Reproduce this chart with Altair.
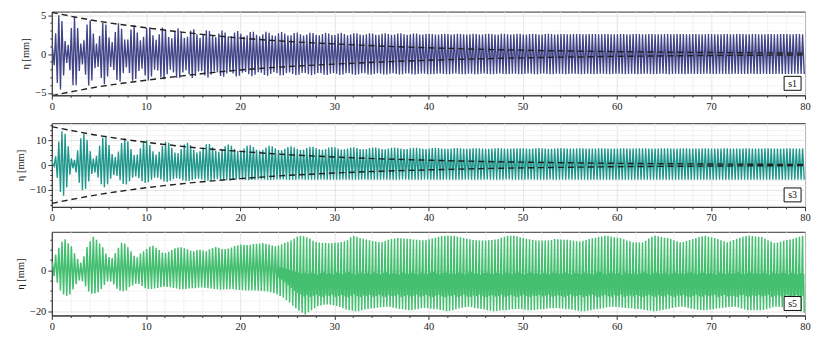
import altair as alt
import pandas as pd

# ---------------- data ----------------
CYCLE_S = 1 / 3           # oscillation period [s]
START = [1.2, 3.0, 2.0]   # value at t = 0 for s1, s3, s5

# s1: crest / trough of each cycle [mm]
S1_HI = [
    0.77, 2.66, 4.99, 4.23, 1.68, 1.19, 3.35, 4.77, 3.35, 1.36,
    1.75, 3.79, 4.34, 2.64, 1.35, 2.33, 3.98, 3.79, 2.13, 1.54,
    2.82, 3.95, 3.25, 1.85, 1.86, 3.16, 3.74, 2.76, 1.76, 2.22,
    3.35, 3.44, 2.40, 1.84, 2.55, 3.40, 3.11, 2.18, 2.01, 2.82,
    3.32, 2.79, 2.07, 2.23, 2.98, 3.17, 2.54, 2.07, 2.45, 3.06,
    2.97, 2.36, 2.16, 2.64, 3.03, 2.77, 2.27, 2.28, 2.77, 2.96,
    2.60, 2.24, 2.42, 2.84, 2.86, 2.47, 2.27, 2.54, 2.85, 2.74,
    2.40, 2.35, 2.65, 2.82, 2.62, 2.36, 2.42, 2.70, 2.77, 2.53,
    2.37, 2.51, 2.73, 2.70, 2.47, 2.40, 2.58, 2.74, 2.64, 2.43,
    2.43, 2.63, 2.72, 2.56, 2.41, 2.49, 2.67, 2.67, 2.51, 2.43,
    2.55, 2.68, 2.63, 2.48, 2.46, 2.59, 2.67, 2.58, 2.46, 2.50,
    2.62, 2.65, 2.54, 2.47, 2.54, 2.63, 2.62, 2.52, 2.49, 2.57,
    2.60, 2.57, 2.51, 2.52, 2.58, 2.60, 2.56, 2.51, 2.53, 2.59, 2.60, 2.54, 2.51, 2.55,
    2.60, 2.58, 2.52, 2.51, 2.57, 2.60, 2.57, 2.51, 2.52, 2.59, 2.60, 2.55, 2.51, 2.54,
    2.60, 2.59, 2.52, 2.51, 2.56, 2.60, 2.58, 2.52, 2.52, 2.58, 2.60, 2.56, 2.51, 2.53,
    2.58, 2.57, 2.54, 2.53, 2.56, 2.58, 2.57, 2.53, 2.53, 2.57, 2.58, 2.56, 2.53, 2.54,
    2.58, 2.58, 2.54, 2.53, 2.55, 2.58, 2.57, 2.54, 2.53, 2.56, 2.58, 2.57, 2.54, 2.53,
    2.57, 2.58, 2.55, 2.53, 2.55, 2.58, 2.58, 2.54, 2.53, 2.56, 2.58, 2.57, 2.54, 2.53,
    2.57, 2.57, 2.55, 2.54, 2.55, 2.57, 2.57, 2.55, 2.54, 2.55, 2.57, 2.57, 2.55, 2.54,
    2.56, 2.57, 2.56, 2.54, 2.55, 2.57, 2.57, 2.55, 2.54, 2.55, 2.57, 2.57, 2.55, 2.54,
    2.56, 2.57, 2.56, 2.54, 2.55, 2.56, 2.57, 2.55,
]
S1_LO = [
    -1.44, -3.71, -4.55, -2.77, -1.16, -2.08, -4.00, -4.00, -2.17, -1.33,
    -2.65, -4.04, -3.41, -1.81, -1.66, -3.08, -3.87, -2.88, -1.67, -2.05,
    -3.34, -3.57, -2.45, -1.71, -2.44, -3.44, -3.22, -2.17, -1.89, -2.75,
    -3.39, -2.88, -2.02, -2.11, -2.95, -3.24, -2.58, -2.01, -2.36, -3.06,
    -3.04, -2.37, -2.08, -2.58, -3.08, -2.83, -2.25, -2.20, -2.74, -3.02,
    -2.65, -2.20, -2.36, -2.83, -2.91, -2.49, -2.23, -2.50, -2.87, -2.78,
    -2.39, -2.29, -2.61, -2.85, -2.65, -2.34, -2.39, -2.70, -2.80, -2.55,
    -2.34, -2.47, -2.74, -2.72, -2.47, -2.36, -2.55, -2.73, -2.65, -2.43,
    -2.42, -2.61, -2.72, -2.58, -2.42, -2.48, -2.66, -2.69, -2.52, -2.42,
    -2.53, -2.68, -2.64, -2.48, -2.45, -2.58, -2.68, -2.59, -2.46, -2.48,
    -2.62, -2.66, -2.55, -2.46, -2.52, -2.64, -2.63, -2.52, -2.47, -2.56,
    -2.64, -2.60, -2.50, -2.50, -2.59, -2.63, -2.57, -2.50, -2.52, -2.60,
    -2.59, -2.60, -2.53, -2.51, -2.55, -2.60, -2.59, -2.53, -2.51, -2.56, -2.60, -2.58, -2.52, -2.52,
    -2.58, -2.60, -2.54, -2.51, -2.55, -2.59, -2.59, -2.53, -2.51, -2.57, -2.60, -2.57, -2.52, -2.53,
    -2.58, -2.60, -2.55, -2.51, -2.54, -2.59, -2.59, -2.54, -2.51, -2.56, -2.60, -2.58, -2.52, -2.52,
    -2.57, -2.58, -2.55, -2.53, -2.54, -2.57, -2.58, -2.55, -2.53, -2.55, -2.58, -2.57, -2.54, -2.53,
    -2.56, -2.58, -2.56, -2.53, -2.54, -2.57, -2.58, -2.55, -2.53, -2.55, -2.58, -2.57, -2.54, -2.53,
    -2.56, -2.58, -2.56, -2.54, -2.54, -2.57, -2.58, -2.55, -2.53, -2.55, -2.57, -2.58, -2.55, -2.53,
    -2.56, -2.57, -2.56, -2.54, -2.54, -2.56, -2.57, -2.56, -2.54, -2.55, -2.56, -2.57, -2.55, -2.54,
    -2.55, -2.57, -2.56, -2.55, -2.54, -2.56, -2.57, -2.56, -2.54, -2.55, -2.56, -2.57, -2.56, -2.54,
    -2.55, -2.57, -2.56, -2.55, -2.54, -2.56, -2.57, -2.56,
]

# s3
S3_HI = [
    0.75, 3.48, 9.49, 13.65, 12.63, 7.53, 2.72, 2.09, 5.90, 10.77,
    12.65, 10.15, 5.51, 2.65, 3.77, 7.74, 11.13, 11.19, 8.03, 4.41,
    3.28, 5.43, 8.91, 10.77, 9.59, 6.47, 4.07, 4.28, 6.80, 9.41,
    9.98, 8.12, 5.50, 4.28, 5.36, 7.74, 9.39, 8.99, 6.98, 5.07,
    4.83, 6.34, 8.27, 9.02, 8.01, 6.18, 5.05, 5.51, 7.08, 8.42,
    8.44, 7.19, 5.76, 5.32, 6.18, 7.55, 8.29, 7.82, 6.58, 5.63,
    5.71, 6.71, 7.75, 7.98, 7.24, 6.20, 5.72, 6.14, 7.09, 7.75,
    7.58, 6.79, 6.04, 5.95, 6.54, 7.30, 7.60, 7.21, 6.48, 6.04,
    6.22, 6.84, 7.37, 7.37, 6.88, 6.32, 6.16, 6.49, 7.02, 7.30,
    7.13, 6.65, 6.28, 6.32, 6.70, 7.10, 7.19, 6.91, 6.50, 6.32,
    6.49, 6.85, 7.10, 7.04, 6.73, 6.44, 6.40, 6.63, 6.93, 7.05,
    6.90, 6.61, 6.43, 6.50, 6.75, 6.95, 6.97, 6.77, 6.55, 6.47,
    6.61, 6.83, 6.95, 6.87, 6.68, 6.53, 6.54, 6.69, 6.85, 6.89, 6.78, 6.61,
    6.58, 6.63, 6.73, 6.81, 6.80, 6.70, 6.60, 6.59, 6.67, 6.77, 6.82, 6.76, 6.66, 6.58, 6.61, 6.71,
    6.80, 6.81, 6.72, 6.62, 6.58, 6.65, 6.76, 6.82, 6.78, 6.68, 6.59, 6.60, 6.69, 6.79, 6.82, 6.74, 6.63,
    6.65, 6.67, 6.71, 6.75, 6.74, 6.70, 6.66, 6.65, 6.69, 6.73, 6.75, 6.73, 6.68, 6.65, 6.66, 6.70,
    6.74, 6.75, 6.71, 6.67, 6.65, 6.68, 6.72, 6.75, 6.73, 6.69, 6.65, 6.66, 6.70, 6.74, 6.75, 6.72, 6.67,
    6.68, 6.69, 6.71, 6.72, 6.72, 6.70, 6.68, 6.68, 6.69, 6.71, 6.72, 6.71, 6.69, 6.68, 6.68, 6.70,
    6.72, 6.72, 6.70, 6.69, 6.68, 6.69, 6.71, 6.72, 6.71, 6.70, 6.68, 6.68, 6.70, 6.72, 6.72, 6.71, 6.69,
    6.68, 6.69, 6.71, 6.72, 6.72, 6.70, 6.68, 6.68, 6.69,
]
S3_LO = [
    -0.50, -5.17, -10.87, -12.41, -8.99, -3.91, -1.35, -3.05, -7.17, -10.13,
    -9.71, -6.62, -3.59, -3.04, -5.07, -7.80, -8.96, -7.79, -5.48, -3.98,
    -4.39, -6.15, -7.70, -7.82, -6.58, -5.12, -4.60, -5.33, -6.58, -7.29,
    -6.96, -5.95, -5.15, -5.16, -5.87, -6.64, -6.84, -6.38, -5.69, -5.35,
    -5.58, -6.12, -6.53, -6.47, -6.05, -5.63, -5.55, -5.83, -6.20, -6.35,
    -6.20, -5.88, -5.68, -5.73, -5.96, -6.17, -6.19, -6.02, -5.81, -5.75,
    -5.85, -6.02, -6.11, -6.06, -5.93, -5.82, -5.82, -5.91, -6.01, -6.04,
    -5.98, -5.88, -5.84, -5.87, -5.94, -5.99, -5.98, -5.92, -5.87, -5.86,
    -5.90, -5.95, -5.97, -5.94, -5.90, -5.87, -5.88, -5.91, -5.94, -5.94,
    -5.92, -5.89, -5.88, -5.89, -5.92, -5.93, -5.92, -5.90, -5.88,
    -5.88, -5.90, -5.91, -5.92, -5.91, -5.89, -5.88, -5.89, -5.90, -5.92, -5.92, -5.90, -5.88, -5.88, -5.89, -5.91,
    -5.92, -5.91, -5.89, -5.88, -5.88, -5.90, -5.92, -5.92, -5.91, -5.89, -5.88, -5.89, -5.91, -5.92, -5.92, -5.90, -5.88,
    -5.88, -5.90, -5.91, -5.92, -5.91, -5.89, -5.88, -5.89, -5.90, -5.92, -5.92, -5.90, -5.88, -5.88, -5.89, -5.91,
    -5.92, -5.91, -5.89, -5.88, -5.88, -5.90, -5.92, -5.92, -5.91, -5.89, -5.88, -5.89, -5.91, -5.92, -5.92, -5.90, -5.88,
    -5.89, -5.90, -5.90, -5.91, -5.91, -5.90, -5.89, -5.89, -5.90, -5.91, -5.91, -5.90, -5.89, -5.89, -5.89, -5.90,
    -5.91, -5.91, -5.90, -5.89, -5.89, -5.90, -5.91, -5.91, -5.90, -5.90, -5.89, -5.89, -5.90, -5.91, -5.91, -5.90, -5.89,
    -5.89, -5.90, -5.90, -5.91, -5.91, -5.90, -5.89, -5.89, -5.90, -5.91, -5.91, -5.90, -5.89, -5.89, -5.89, -5.90,
    -5.91, -5.91, -5.90, -5.89, -5.89, -5.90, -5.91, -5.91, -5.90, -5.90, -5.89, -5.89, -5.90, -5.91, -5.91, -5.90, -5.89,
    -5.89, -5.90, -5.90, -5.91, -5.91, -5.90, -5.89, -5.89, -5.90,
]

# s5
S5_HI = [
    3.8, 7.8, 11.0, 14.0, 15.2, 13.3, 11.8, 8.4, 5.6, 3.8,
    6.9, 11.4, 14.2, 16.5, 15.0, 13.1, 11.3, 8.2, 6.5, 6.0,
    8.5, 11.0, 13.5, 13.2, 11.3, 9.3, 7.1, 6.4, 8.2, 9.4,
    10.5, 11.5, 12.0, 11.0, 10.0, 8.7, 8.5, 9.1, 10.0, 10.8,
    11.2, 11.3, 10.8, 10.3, 9.6, 9.4, 9.9, 10.1, 9.7, 9.4,
    10.3, 10.9, 11.4, 11.0, 10.4, 10.4, 10.7, 11.2, 11.9, 12.3,
    12.6, 12.5, 12.4, 12.5, 12.9, 13.0, 13.1, 13.4, 13.0, 12.6,
    12.2, 11.8, 12.2, 12.8, 13.5, 14.0, 14.6, 15.5, 16.4, 17.0,
    16.7, 16.2, 15.6, 14.5, 13.9, 13.6, 13.4, 13.5, 13.3, 13.4,
    13.5, 13.6, 13.9, 14.2, 14.7, 16.2, 16.8, 16.4, 15.9, 15.5,
    15.1, 14.7, 14.4, 14.1, 13.9, 13.9, 14.4, 15.0, 15.3, 15.6,
    15.8, 15.7, 15.6, 15.5, 15.3, 15.1, 15.0, 14.8, 14.7, 14.8,
    15.2, 15.6, 16.0, 16.4, 16.8, 17.0, 17.0, 17.0, 17.0, 16.6,
    16.2, 15.8, 15.5, 15.2, 14.9, 14.7, 14.6, 14.6, 14.6, 14.7,
    14.9, 15.1, 15.4, 16.0, 16.5, 17.0, 17.0, 17.0, 16.7, 16.2,
    15.8, 15.5, 15.2, 14.9, 14.6, 14.6, 14.6, 14.6, 14.6, 14.9,
    15.3, 15.2, 15.1, 15.0, 15.0, 14.8, 14.5, 14.3, 14.1, 14.5,
    14.9, 15.3, 15.7, 16.0, 16.3, 16.6, 16.9, 17.0, 16.6, 16.2,
    16.0, 15.8, 15.2, 14.6, 14.2, 13.8, 13.7, 13.7, 13.7, 14.5,
    15.6, 16.5, 17.0, 16.7, 16.3, 16.0, 15.8, 15.3, 14.8, 14.3,
    13.8, 13.9, 14.4, 14.9, 15.4, 15.9, 16.3, 16.7, 17.0, 16.6,
    16.2, 15.8, 15.3, 14.8, 14.3, 13.8, 14.3, 14.9, 15.5, 16.0,
    16.4, 16.8, 17.0, 16.8, 16.6, 16.4, 16.3, 15.6, 14.8, 14.1,
    13.5, 13.6, 14.0, 14.5, 14.9, 15.1, 15.5, 16.0, 16.5, 16.9,
]
S5_LO = [
    -2.9, -6.0, -9.8, -11.8, -12.4, -11.8, -9.4, -6.8, -5.0, -5.3,
    -7.8, -10.3, -11.4, -11.3, -10.7, -9.1, -7.1, -5.4, -5.4, -6.9,
    -9.0, -10.0, -10.2, -9.9, -8.1, -7.4, -6.5, -6.7, -7.7, -8.7,
    -9.1, -9.1, -8.9, -8.6, -8.3, -8.0, -8.1, -8.3, -8.6, -8.9,
    -9.2, -9.3, -9.1, -8.9, -8.8, -8.7, -8.5, -8.4, -8.6, -8.8,
    -8.9, -9.1, -9.3, -9.5, -9.4, -9.3, -9.2, -9.3, -9.5, -9.6,
    -9.7, -9.8, -9.8, -9.9, -9.9, -10.0, -10.1, -10.2, -10.4, -10.7,
    -11.2, -11.8, -12.5, -13.4, -14.6, -15.8, -17.3, -18.6, -19.8, -20.8,
    -21.6, -20.5, -19.5, -18.5, -17.6, -17.2, -16.9, -16.7, -16.8, -17.1,
    -17.5, -17.9, -18.5, -19.2, -19.5, -19.8, -20.0, -20.0, -19.6, -19.2,
    -19.0, -18.7, -18.5, -18.3, -18.1, -17.9, -17.8, -18.0, -18.3, -18.6,
    -18.9, -19.1, -19.3, -19.5, -19.5, -19.2, -18.9, -18.6, -18.4, -18.6,
    -18.8, -19.0, -19.1, -19.4, -19.7, -20.0, -19.9, -19.5, -19.1, -18.7,
    -18.3, -17.9, -17.8, -18.1, -18.4, -18.7, -18.9, -19.2, -19.5, -19.8,
    -20.0, -19.9, -19.7, -19.5, -19.5, -19.3, -19.1, -18.9, -18.9, -19.1,
    -19.3, -19.5, -19.5, -19.4, -19.2, -19.1, -19.0, -18.8, -18.6, -18.5,
    -18.4, -18.6, -18.8, -19.0, -19.1, -19.3, -19.6, -19.8, -20.0, -20.0,
    -19.8, -19.5, -19.2, -19.1, -18.8, -18.5, -18.2, -17.9, -17.8, -17.9,
    -18.1, -18.3, -18.4, -18.6, -18.7, -18.9, -18.9, -19.1, -19.4, -19.6,
    -19.8, -20.0, -19.9, -19.7, -19.4, -19.1, -18.8, -18.4, -18.1, -17.9,
    -17.8, -18.0, -18.4, -18.8, -19.1, -19.3, -19.4, -19.5, -19.5, -19.3,
    -19.0, -18.7, -18.5, -18.4, -18.2, -18.0, -17.9, -17.8, -18.2, -18.7,
    -19.2, -19.5, -19.5, -19.5, -19.5, -19.5, -19.4, -19.0, -18.5, -18.1,
    -17.8, -17.9, -18.1, -18.3, -18.4, -18.6, -18.9, -19.4, -20.1, -20.8,
]
# s5 secondary wiggle inside each cycle (from cycle S5_WIGGLE_FROM on)
S5_WIGGLE_FROM = 72
S5_DIP = [
    -3.5, -4.5, -5.8, -7.2, -8.6, -10.0, -11.2, -12.0,
    -12.8, -12.2, -13.0, -12.4, -11.9, -12.7, -13.1, -12.3, -12.6, -12.0,
    -12.9, -12.5, -12.1, -12.8, -13.2, -12.4, -11.8, -12.6, -13.0, -12.3,
    -12.7, -12.1, -12.9, -12.5, -12.0, -12.8, -13.1, -12.2, -12.6, -12.4,
    -11.9, -13.0, -12.6, -12.2, -12.8, -12.4, -12.0, -12.9, -12.5, -12.1,
    -12.8, -13.2, -12.4, -11.9, -12.7, -13.0, -12.3, -12.5, -12.1, -12.9,
    -12.6, -12.0, -12.8, -13.1, -12.3, -12.5, -11.9, -12.7, -13.0, -12.4,
    -12.2, -12.8, -12.5, -12.0, -12.9, -12.6, -12.1, -12.7, -13.1, -12.4,
    -11.9, -12.6, -13.0, -12.3, -12.5, -12.1, -12.8, -12.4, -12.0, -12.9,
    -12.7, -12.2, -12.5, -13.1, -12.4, -11.9, -12.8, -12.6, -12.1, -13.0,
    -12.5, -12.3, -12.0, -12.8, -13.2, -12.4, -12.1, -12.7, -12.9, -12.2,
    -12.6, -11.9, -13.0, -12.5, -12.3, -12.8, -12.1, -12.6, -13.1, -12.4,
    -12.0, -12.7, -12.9, -12.2, -12.5, -12.8, -11.9, -12.6, -13.0, -12.3,
    -12.4, -12.1, -12.8, -13.1, -12.5, -12.0, -12.7, -12.9, -12.2, -12.6,
    -12.3, -11.9, -13.0, -12.6, -12.1, -12.8, -12.4, -12.5, -13.1, -12.2,
    -12.0, -12.7, -12.9, -12.3, -12.6, -12.1, -12.8, -12.4, -11.9, -13.0,
    -12.5, -12.2, -12.8, -12.6, -12.0, -12.9, -12.4, -12.1, -12.7, -12.5,
]
S5_BUMP = [
    1.5, 1.2, 0.8, 0.3, -0.2, -0.7, -1.1, -1.4,
    -1.2, -1.8, -1.0, -1.6, -2.1, -1.3, -0.9, -1.7, -1.4, -2.0,
    -1.1, -1.5, -1.9, -1.2, -0.8, -1.6, -2.2, -1.4, -1.0, -1.7,
    -1.3, -1.9, -1.1, -1.5, -2.0, -1.2, -0.9, -1.8, -1.4, -1.6,
    -2.1, -1.0, -1.4, -1.8, -1.2, -1.6, -2.0, -1.1, -1.5, -1.9,
    -1.2, -0.8, -1.6, -2.1, -1.3, -1.0, -1.7, -1.5, -1.9, -1.1,
    -1.4, -2.0, -1.2, -0.9, -1.7, -1.5, -2.1, -1.3, -1.0, -1.6,
    -1.8, -1.2, -1.5, -2.0, -1.1, -1.4, -1.9, -1.3, -0.9, -1.6,
    -2.1, -1.4, -1.0, -1.7, -1.5, -1.9, -1.2, -1.6, -2.0, -1.1,
    -1.3, -1.8, -1.5, -0.9, -1.6, -2.1, -1.2, -1.4, -1.9, -1.0,
    -1.5, -1.7, -2.0, -1.2, -0.8, -1.6, -1.9, -1.3, -1.1, -1.8,
    -1.4, -2.1, -1.0, -1.5, -1.7, -1.2, -1.9, -1.4, -0.9, -1.6,
    -2.0, -1.3, -1.1, -1.8, -1.5, -1.2, -2.1, -1.4, -1.0, -1.7,
    -1.6, -1.9, -1.2, -0.9, -1.5, -2.0, -1.3, -1.1, -1.8, -1.4,
    -1.7, -2.1, -1.0, -1.4, -1.9, -1.2, -1.6, -1.5, -0.9, -1.8,
    -2.0, -1.3, -1.1, -1.7, -1.4, -1.9, -1.2, -1.6, -2.1, -1.0,
    -1.5, -1.8, -1.2, -1.4, -2.0, -1.1, -1.6, -1.9, -1.3, -1.5,
]

# dashed decay envelopes (upper branch; lower branch is its mirror)
ENV_T = [0, 5, 10, 15, 20, 25, 30, 35, 40, 45, 50, 55, 60, 65, 70, 75, 80]
S1_ENV = [5.35, 4.20, 3.37, 2.65, 2.05, 1.62, 1.30, 1.02, 0.80, 0.63, 0.49, 0.39, 0.30, 0.24, 0.19, 0.15, 0.11]
S3_ENV = [15.5, 11.9, 9.2, 7.1, 5.5, 4.2, 3.25, 2.5, 1.95, 1.5, 1.15, 0.9, 0.68, 0.53, 0.41, 0.31, 0.24]

TAGS = ["s1", "s3", "s5"]
COLORS = ["#414487", "#1f968b", "#44bf70"]
LINE_W = [1.35, 1.35, 1.5]
Y_DOMAINS = [[-5.3, 5.45], [-16.9, 16.9], [-22.1, 18.9]]
Y_MINOR = [1, 2, 5]
Y_MAJOR = [5, 10, 20]
X_TICKS = list(range(0, 81, 2))

# ---------------- chart ----------------
FONT = "Liberation Serif, DejaVu Serif, serif"
W, H = 756, 84


def wave_frame(hi, lo, start, dip=None, bump=None, wig_from=0):
    t, v = [0.0], [start]
    for k, (h, l) in enumerate(zip(hi, lo)):
        t.append((k + 0.22) * CYCLE_S)
        v.append(h)
        if dip is not None and k >= wig_from:
            t += [(k + 0.40) * CYCLE_S, (k + 0.55) * CYCLE_S]
            v += [dip[k - wig_from], bump[k - wig_from]]
        t.append((k + 0.75) * CYCLE_S)
        v.append(l)
    return pd.DataFrame({"t": t, "eta": v})


def env_frame(env):
    rows = []
    for t, e in zip(ENV_T, env):
        rows.append({"t": t, "eta": e, "branch": "up"})
        rows.append({"t": t, "eta": -e, "branch": "down"})
    return pd.DataFrame(rows)


def panel(i, wave, env):
    lo_d, hi_d = Y_DOMAINS[i]
    step, major = Y_MINOR[i], Y_MAJOR[i]
    first = int(-(-lo_d // step)) * step
    yvals = []
    v = first
    while v <= hi_d:
        yvals.append(v)
        v += step
    xs = alt.Scale(domain=[0, 80], nice=False, zero=False)
    ys = alt.Scale(domain=[lo_d, hi_d], nice=False, zero=False)
    xaxis = alt.Axis(
        values=X_TICKS, title=None,
        labelExpr="datum.value % 10 === 0 ? datum.label : ''",
        labelFlush=False, labelOverlap=False,
        labelFont=FONT, labelFontSize=10.5, labelColor="#222", labelPadding=2,
        tickColor="#333", domainColor="#333",
        tickSize={"condition": {"test": "datum.value % 10 === 0", "value": 4}, "value": 2},
        gridColor={"condition": {"test": "datum.value % 10 === 0", "value": "#dedede"}, "value": "#efefef"},
        gridWidth=0.8,
    )
    yaxis = alt.Axis(
        values=yvals, title="η [mm]",
        labelExpr=f"datum.value % {major} === 0 ? datum.label : ''",
        labelOverlap=False,
        labelFont=FONT, labelFontSize=10.5, labelColor="#222", labelPadding=2,
        titleFont=FONT, titleFontSize=10.5, titleFontWeight="normal", titleColor="#222",
        titlePadding=4,
        tickColor="#333", domainColor="#333",
        tickSize={"condition": {"test": f"datum.value % {major} === 0", "value": 4}, "value": 2},
        gridColor={"condition": {"test": f"datum.value % {major} === 0", "value": "#dedede"}, "value": "#efefef"},
        gridWidth=0.8,
    )
    line = alt.Chart(wave).mark_line(
        color=COLORS[i], strokeWidth=LINE_W[i], clip=True
    ).encode(
        x=alt.X("t:Q", scale=xs, axis=xaxis),
        y=alt.Y("eta:Q", scale=ys, axis=yaxis),
    )
    layers = [line]
    if env is not None:
        dash = alt.Chart(env_frame(env)).mark_line(
            color="#222", strokeWidth=1.4, strokeDash=[6, 4], interpolate="monotone", clip=True
        ).encode(
            x=alt.X("t:Q", scale=xs, axis=xaxis),
            y=alt.Y("eta:Q", scale=ys, axis=yaxis),
            detail="branch:N",
        )
        layers.append(dash)
    tagdf = pd.DataFrame({"tag": [TAGS[i]]})
    box = alt.Chart(tagdf).mark_rect(fill="white", stroke="#111", strokeWidth=1).encode(
        x=alt.value(735), x2=alt.value(752), y=alt.value(65), y2=alt.value(79)
    )
    txt = alt.Chart(tagdf).mark_text(font=FONT, fontSize=10, color="#111").encode(
        x=alt.value(743.5), y=alt.value(72.5), text="tag:N"
    )
    layers += [box, txt]
    return alt.layer(*layers).properties(width=W, height=H)


chart = alt.vconcat(
    panel(0, wave_frame(S1_HI, S1_LO, START[0]), S1_ENV),
    panel(1, wave_frame(S3_HI, S3_LO, START[1]), S3_ENV),
    panel(2, wave_frame(S5_HI, S5_LO, START[2], S5_DIP, S5_BUMP, S5_WIGGLE_FROM), None),
    spacing=7,
).properties(
    padding={"left": 7, "top": 1, "right": 3, "bottom": 2}
).configure_view(stroke="#333", strokeWidth=1)

chart.save("out.html", embed_options={"renderer": "svg", "actions": False})
